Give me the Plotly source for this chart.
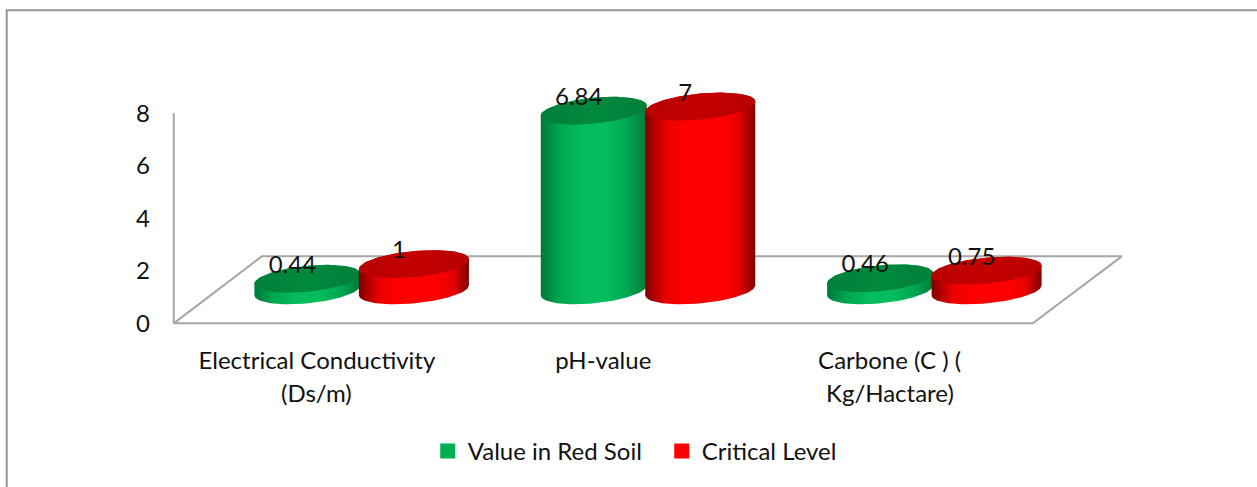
import numpy as np
import plotly.graph_objects as go

categories = ["Electrical Conductivity", "pH-value", "Carbone (C ) ("]
second_lines = ["(Ds/m)", "", "Kg/Hactare)"]
red_soil = [0.44, 6.84, 0.46]
critical = [1, 7, 0.75]
y_ticks = [0, 2, 4, 6, 8]

FONT = "Lato"
FS = 24
L, R, T, B = 174, 1033, 113, 323
PX = (R - L) / 3
PY = (B - T) / 8
XMIN, XMAX = -0.52, 2.85
YMIN, YMAX = -0.1, 9.0
PL = L + (XMIN + 0.5) * PX
PR = L + (XMAX + 0.5) * PX
PT = B - YMAX * PY
PB = B - YMIN * PY
BASE = 33 / PY
B_EL = 13 / PY
SHEAR = 5 / PY
t = np.linspace(0, np.pi, 60)

def paper_x(px):
    return (px - PL) / (PR - PL)

def paper_y(py):
    return (PB - py) / (PB - PT)

def pieces(cx, a, v):
    xa = cx + a * np.cos(t)
    front = BASE - B_EL * np.sin(t) + SHEAR * np.cos(t)
    back = BASE + v + B_EL * np.sin(t) + SHEAR * np.cos(t)
    top_front = BASE + v - B_EL * np.sin(t) + SHEAR * np.cos(t)
    body_x = np.concatenate([xa[::-1], xa])
    body_y = np.concatenate([front[::-1], back])
    top_x = np.concatenate([xa, xa[::-1]])
    top_y = np.concatenate([back, top_front[::-1]])
    return body_x, body_y, top_x, top_y

fig = go.Figure()
# wall edge and floor of the 3D box
fig.add_trace(go.Scatter(
    x=[-0.5, -0.5], y=[8, 0], mode="lines",
    line=dict(color="#A6A6A6", width=2), showlegend=False, hoverinfo="skip"))
fig.add_trace(go.Scatter(
    x=[-0.5, -0.5 + 88 / PX, 2.5 + 89 / PX, 2.5, -0.5],
    y=[0, 67 / PY, 67 / PY, 0, 0], mode="lines",
    line=dict(color="#A6A6A6", width=2), showlegend=False, hoverinfo="skip"))

series = [
    ("Value in Red Soil", red_soil, "#00B050", -9.5 / PX, 53 / PX,
     [[0, "#00793A"], [0.18, "#00A651"], [0.4, "#05BD5C"], [0.62, "#05BD5C"], [0.82, "#00A651"], [1, "#00793A"]],
     [[0, "#007F3A"], [0.5, "#008A3E"], [1, "#007F3A"]]),
    ("Critical Level", critical, "#FF0000", 97 / PX, 55 / PX,
     [[0, "#800000"], [0.18, "#E80000"], [0.35, "#FF0000"], [0.7, "#FF0000"], [0.85, "#E80000"], [1, "#800000"]],
     [[0, "#B80000"], [0.5, "#C40000"], [1, "#B80000"]]),
]
for name, vals, color, off, a, body_cs, top_cs in series:
    for i, v in enumerate(vals):
        bx, by, tx, ty = pieces(i + off, a, v)
        fig.add_trace(go.Scatter(x=bx, y=by, mode="lines", fill="toself",
                                 line=dict(width=0), showlegend=False, hoverinfo="skip",
                                 fillgradient=dict(type="horizontal", colorscale=body_cs)))
        fig.add_trace(go.Scatter(x=tx, y=ty, mode="lines", fill="toself",
                                 line=dict(width=0), showlegend=False, hoverinfo="skip",
                                 fillgradient=dict(type="horizontal", colorscale=top_cs)))
for name, vals, color, off, a, body_cs, top_cs in series:
    fig.add_trace(go.Scatter(
        x=[i + off - 15 / PX for i in range(3)],
        y=[BASE + v + 12 / PY for v in vals],
        text=[str(v) for v in vals], mode="text", textposition="middle center",
        textfont=dict(family=FONT, size=FS, color="#111111"),
        cliponaxis=False, showlegend=False, hoverinfo="skip"))
    fig.add_trace(go.Scatter(x=[None], y=[None], mode="markers", name=name,
                             marker=dict(symbol="square", size=15, color=color)))

annotations = [dict(xref="x", yref="paper", x=i, y=paper_y(392), text=s, showarrow=False,
                    font=dict(family=FONT, size=FS, color="#111111"), yanchor="middle")
               for i, s in enumerate(second_lines) if s]

fig.update_layout(
    width=1257, height=487, paper_bgcolor="white", plot_bgcolor="white",
    margin=dict(l=PL, r=1257 - PR, t=PT, b=487 - PB),
    font=dict(family=FONT, size=FS, color="#111111"),
    xaxis=dict(range=[XMIN, XMAX], tickvals=[0, 1, 2], ticktext=categories, showgrid=False,
               zeroline=False, showline=False, ticks="", ticklabelstandoff=18, fixedrange=True),
    yaxis=dict(range=[YMIN, YMAX], tickvals=y_ticks, showgrid=False, zeroline=False, showline=False,
               ticks="", ticklabelstandoff=17, fixedrange=True),
    legend=dict(orientation="h", x=paper_x(428), xanchor="left",
                y=paper_y(451), yanchor="middle", font=dict(family=FONT, size=FS),
                itemwidth=30, entrywidth=189, bgcolor="rgba(0,0,0,0)"),
    annotations=annotations,
    shapes=[dict(type="rect", xref="paper", yref="paper",
                 x0=paper_x(7), x1=paper_x(1300), y0=paper_y(520), y1=paper_y(10),
                 line=dict(color="#969696", width=2), layer="below")],
)
fig.write_html("out.html", config={"displayModeBar": False},
               post_script="document.body.style.margin='0';")
